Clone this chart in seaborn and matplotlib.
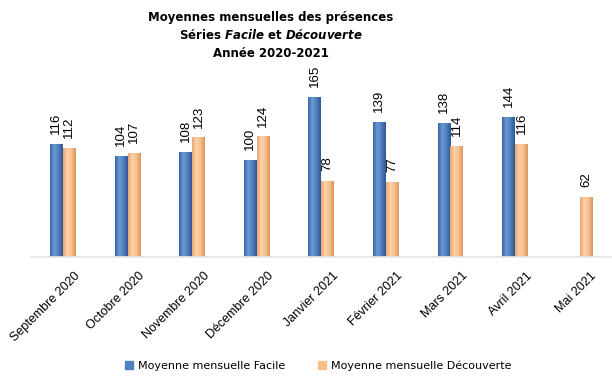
import numpy as np
import pandas as pd
import seaborn as sns
import matplotlib.pyplot as plt
import matplotlib.transforms as mtransforms
from matplotlib.colors import LinearSegmentedColormap

months = ["Septembre 2020", "Octobre 2020", "Novembre 2020", "Décembre 2020",
          "Janvier 2021", "Février 2021", "Mars 2021", "Avril 2021", "Mai 2021"]
facile = [116, 104, 108, 100, 165, 139, 138, 144, np.nan]
decouverte = [112, 107, 123, 124, 78, 77, 114, 116, 62]
series = ["Moyenne mensuelle Facile", "Moyenne mensuelle Découverte"]

df = pd.DataFrame({
    "mois": months * 2,
    "valeur": facile + decouverte,
    "serie": [series[0]] * len(months) + [series[1]] * len(months),
})

sns.set_theme(style="white")
plt.rcParams["font.family"] = ["DejaVu Sans"]
plt.rcParams["mathtext.fontset"] = "dejavusans"
plt.rcParams["text.color"] = "black"
plt.rcParams["xtick.color"] = "black"

fig = plt.figure(figsize=(6.12, 3.83), dpi=100)
ax = fig.add_axes([0.05, 0.329, 0.95, 0.457])

colors = {series[0]: "#4f81bd", series[1]: "#fbbf8e"}
sns.barplot(data=df, x="mois", y="valeur", hue="serie", palette=colors,
            width=0.4, dodge=True, ax=ax, legend=False, saturation=1,
            edgecolor="none")

ax.set_xlabel("")
ax.set_ylabel("")
ax.set_yticks([])
for s in ["top", "left", "right"]:
    ax.spines[s].set_visible(False)
ax.spines["bottom"].set_color("#e6e6e6")

# horizontal gradient inside each bar (the original has a shaded 3D look)
grads = {
    series[0]: LinearSegmentedColormap.from_list("b", ["#3a65a0", "#6b9ad6", "#4f7fbd", "#2f5590"]),
    series[1]: LinearSegmentedColormap.from_list("o", ["#e9a672", "#fdd2aa", "#f9bf8c", "#d9965f"]),
}
grad = np.linspace(0, 1, 64).reshape(1, -1)
for cont, name in zip(ax.containers, series):
    for p in cont:
        h = p.get_height()
        if not np.isfinite(h) or h == 0:
            continue
        x0, w = p.get_x(), p.get_width()
        im = ax.imshow(grad, cmap=grads[name], aspect="auto",
                       extent=[x0, x0 + w, 0, h], zorder=p.get_zorder() + 0.1)
        im.set_clip_path(p)
    ax.bar_label(cont, fmt="%d", rotation=90, padding=7, fontsize=9.5,
                 color="black", family=["Liberation Sans"])
ax.set_xlim(-0.5, len(months) - 0.5)
ax.set_ylim(0, 180)

ax.tick_params(axis="x", length=0, pad=5)
shift = mtransforms.ScaledTranslation(11 / 100, -6 / 100, fig.dpi_scale_trans)
for lab in ax.get_xticklabels():
    lab.set_rotation(45)
    lab.set_ha("right")
    lab.set_va("top")
    lab.set_rotation_mode("anchor")
    lab.set_fontsize(9)
    lab.set_family(["Liberation Sans"])
    lab.set_transform(lab.get_transform() + shift)

tx = 0.443
fig.text(tx, 0.955, "Moyennes mensuelles des présences", ha="center", va="center",
         fontsize=8.5, fontweight="bold")
fig.text(tx, 0.908, "Séries $\\mathbfit{Facile}$ et $\\mathbfit{Découverte}$", ha="center",
         va="center", fontsize=8.5, fontweight="bold")
fig.text(tx, 0.861, "Année 2020-2021", ha="center", va="center",
         fontsize=8.5, fontweight="bold")

handles = [plt.Rectangle((0, 0), 1, 1, color=colors[s]) for s in series]
fig.legend(handles, series, loc="center", bbox_to_anchor=(0.52, 0.045), ncol=2,
           frameon=False, fontsize=8, handlelength=0.7, handleheight=0.7,
           handletextpad=0.4, columnspacing=3)

fig.savefig("out.png", dpi=100)
